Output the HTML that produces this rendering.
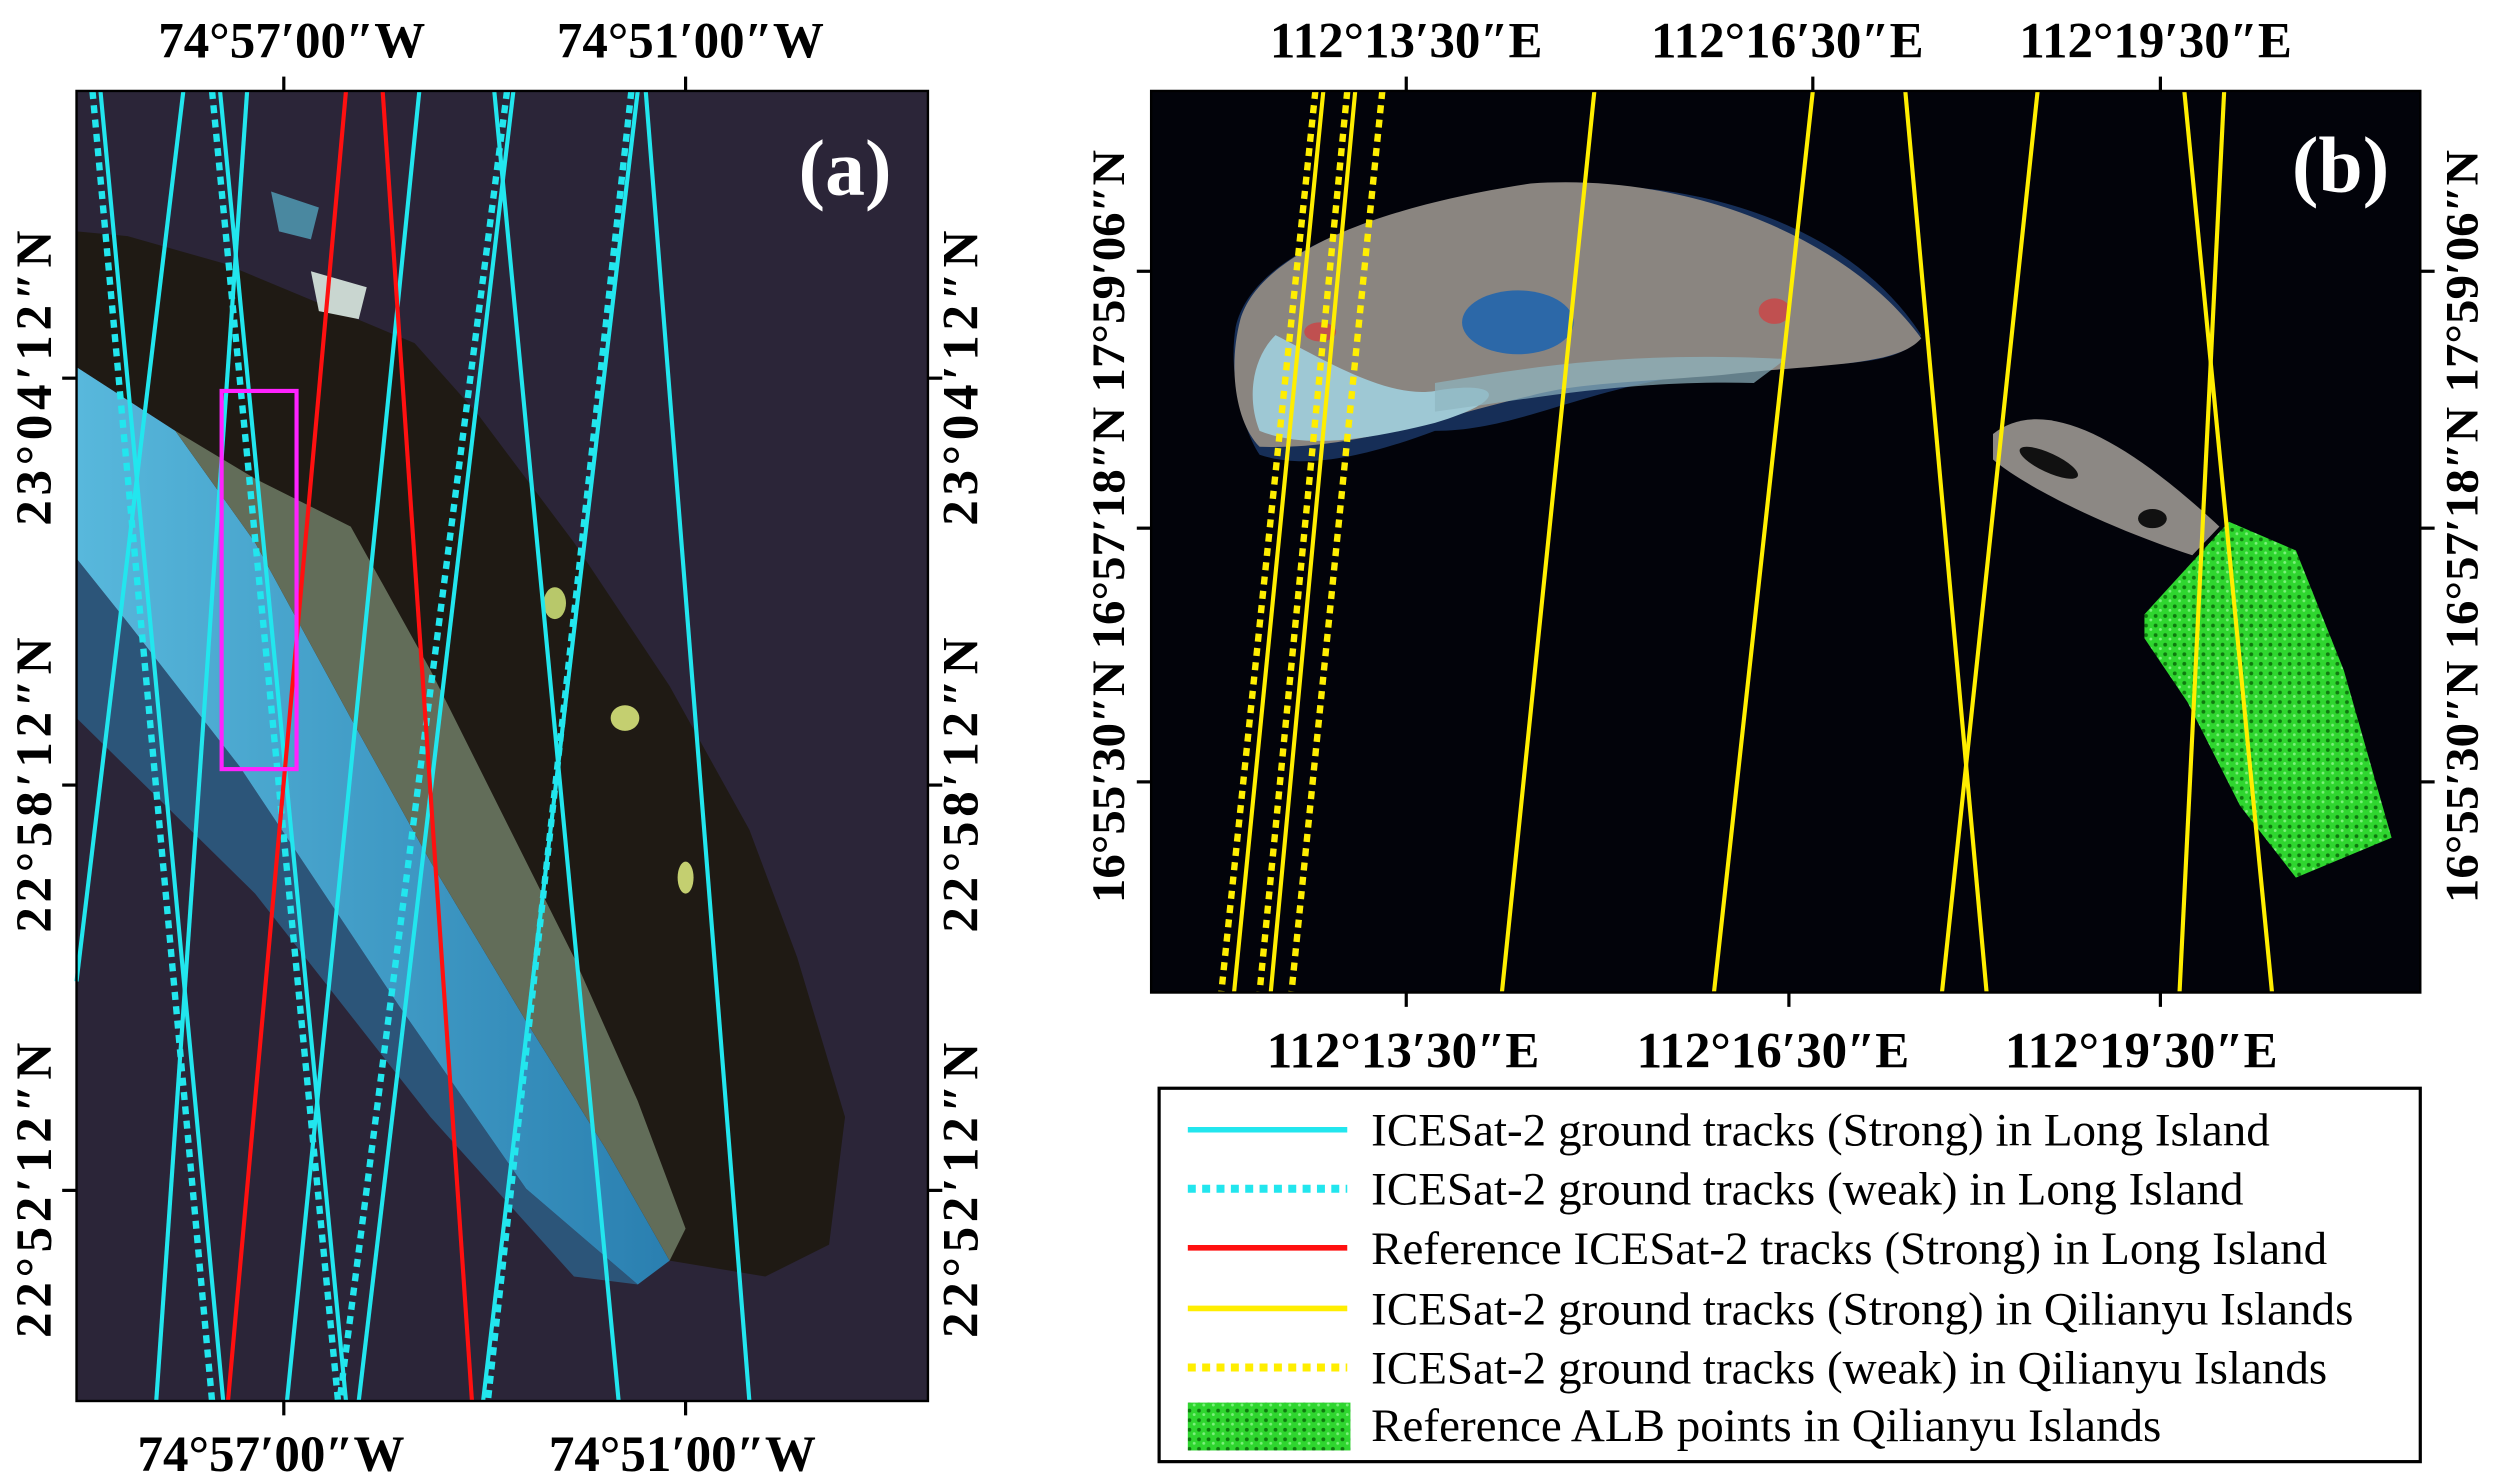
<!DOCTYPE html>
<html><head><meta charset="utf-8"><style>html,body{margin:0;padding:0;background:#fff}svg{display:block}</style></head>
<body>
<svg width="2500" height="1476" viewBox="0 0 1568 925" preserveAspectRatio="none" xmlns="http://www.w3.org/2000/svg">
<defs>
<linearGradient id="sh" x1="0" y1="0" x2="1" y2="0"><stop offset="0" stop-color="#58b8dc"/><stop offset="1" stop-color="#2a7fb0"/></linearGradient>
<pattern id="dots" width="6" height="6" patternUnits="userSpaceOnUse"><rect width="6" height="6" fill="#2fd62f"/><circle cx="2" cy="2" r="1.2" fill="#0f7a0f"/><circle cx="5" cy="4.5" r="0.9" fill="#7cf07c"/></pattern>
</defs>
<rect width="1568" height="925" fill="#fff"/>
<!-- Panel a -->
<rect x="48" y="57" width="534" height="821" fill="#2b2538"/>
<path d="M48,230 L110,270 L160,340 L220,450 L270,540 L330,640 L380,720 L420,790 L400,805 L330,745 L250,630 L150,480 L80,390 L48,350Z" fill="url(#sh)"/>
<path d="M48,350 L80,390 L150,480 L250,630 L330,745 L400,805 L360,800 L270,700 L160,560 L48,450Z" fill="#2e6a95" opacity="0.7"/>
<path d="M48,145 L80,148 L140,165 L200,190 L260,215 L300,260 L360,340 L420,430 L470,520 L500,600 L530,700 L520,780 L480,800 L420,790 L380,720 L330,640 L270,540 L220,450 L160,340 L110,270 L48,230Z" fill="#1f1a14"/>
<path d="M110,270 L160,300 L220,330 L270,420 L320,520 L360,600 L400,690 L430,770 L420,790 L380,720 L330,640 L270,540 L220,450 L160,340Z" fill="#7a8a70" opacity="0.75"/>
<path d="M195,170 L230,180 L225,200 L200,195Z" fill="#c9d6d0"/>
<path d="M170,120 L200,130 L195,150 L175,145Z" fill="#4a88a0"/>
<ellipse cx="348" cy="378" rx="7" ry="10" fill="#b8c86a"/>
<ellipse cx="392" cy="450" rx="9" ry="8" fill="#c4cf70"/>
<ellipse cx="430" cy="550" rx="5" ry="10" fill="#c4cf70"/>
<g stroke="#22e6ee" stroke-width="2.6" fill="none">
<line x1="63" y1="57" x2="140" y2="878"/>
<line x1="115" y1="57" x2="48" y2="615"/>
<line x1="138" y1="57" x2="217" y2="878"/>
<line x1="155" y1="57" x2="98" y2="878"/>
<line x1="263" y1="57" x2="180" y2="878"/>
<line x1="310" y1="57" x2="388" y2="878"/>
<line x1="322" y1="57" x2="225" y2="878"/>
<line x1="400" y1="57" x2="303" y2="878"/>
<line x1="405" y1="57" x2="470" y2="878"/>
</g>
<g stroke="#22e6ee" stroke-width="4" stroke-dasharray="5,4" fill="none">
<line x1="58" y1="57" x2="133" y2="878"/>
<line x1="133" y1="57" x2="212" y2="878"/>
<line x1="318" y1="57" x2="213" y2="878"/>
<line x1="396" y1="57" x2="306" y2="878"/>
</g>
<g stroke="#ff1010" stroke-width="2.6"><line x1="217" y1="57" x2="143" y2="878"/><line x1="240" y1="57" x2="296" y2="878"/></g>
<rect x="139" y="245" width="47" height="237" fill="none" stroke="#ff22ff" stroke-width="2.6"/>
<rect x="48" y="57" width="534" height="821" fill="none" stroke="#000" stroke-width="1.5"/>
<text x="530" y="122" font-family="Liberation Serif,serif" font-weight="bold" font-size="50" fill="#fff" text-anchor="middle">(a)</text>
<g stroke="#000" stroke-width="2"><line x1="178" y1="48" x2="178" y2="57"/><line x1="430" y1="48" x2="430" y2="57"/><line x1="178" y1="878" x2="178" y2="887"/><line x1="430" y1="878" x2="430" y2="887"/>
<line x1="39" y1="237" x2="48" y2="237"/><line x1="39" y1="492" x2="48" y2="492"/><line x1="39" y1="746" x2="48" y2="746"/>
<line x1="582" y1="237" x2="591" y2="237"/><line x1="582" y1="492" x2="591" y2="492"/><line x1="582" y1="746" x2="591" y2="746"/>
<line x1="882" y1="48" x2="882" y2="57"/><line x1="1137" y1="48" x2="1137" y2="57"/><line x1="1355" y1="48" x2="1355" y2="57"/>
<line x1="882" y1="622" x2="882" y2="631"/><line x1="1122" y1="622" x2="1122" y2="631"/><line x1="1355" y1="622" x2="1355" y2="631"/>
<line x1="713" y1="170" x2="722" y2="170"/><line x1="713" y1="331" x2="722" y2="331"/><line x1="713" y1="490" x2="722" y2="490"/>
<line x1="1518" y1="170" x2="1527" y2="170"/><line x1="1518" y1="331" x2="1527" y2="331"/><line x1="1518" y1="490" x2="1527" y2="490"/></g>
<g font-family="Liberation Serif,serif" font-weight="bold" font-size="32" fill="#000" text-anchor="middle">
<text x="183" y="36">74°57′00″W</text><text x="433" y="36">74°51′00″W</text>
<text x="170" y="922">74°57′00″W</text><text x="428" y="922">74°51′00″W</text>
<text transform="translate(32,237) rotate(-90)" textLength="185" lengthAdjust="spacing">23°04′12″N</text>
<text transform="translate(32,492) rotate(-90)" textLength="185" lengthAdjust="spacing">22°58′12″N</text>
<text transform="translate(32,746) rotate(-90)" textLength="185" lengthAdjust="spacing">22°52′12″N</text>
<text transform="translate(613,237) rotate(-90)" textLength="185" lengthAdjust="spacing">23°04′12″N</text>
<text transform="translate(613,492) rotate(-90)" textLength="185" lengthAdjust="spacing">22°58′12″N</text>
<text transform="translate(613,746) rotate(-90)" textLength="185" lengthAdjust="spacing">22°52′12″N</text>
<text x="882" y="36">112°13′30″E</text><text x="1121" y="36">112°16′30″E</text><text x="1352" y="36">112°19′30″E</text>
<text x="880" y="669">112°13′30″E</text><text x="1112" y="669">112°16′30″E</text><text x="1343" y="669">112°19′30″E</text>
</g>
<g font-family="Liberation Serif,serif" font-weight="bold" font-size="29" fill="#000" text-anchor="middle">
<text transform="translate(705,170) rotate(-90)" textLength="152" lengthAdjust="spacingAndGlyphs">17°59′06″N</text>
<text transform="translate(705,331) rotate(-90)" textLength="152" lengthAdjust="spacingAndGlyphs">16°57′18″N</text>
<text transform="translate(705,490) rotate(-90)" textLength="152" lengthAdjust="spacingAndGlyphs">16°55′30″N</text>
<text transform="translate(1554,170) rotate(-90)" textLength="152" lengthAdjust="spacingAndGlyphs">17°59′06″N</text>
<text transform="translate(1554,331) rotate(-90)" textLength="152" lengthAdjust="spacingAndGlyphs">16°57′18″N</text>
<text transform="translate(1554,490) rotate(-90)" textLength="152" lengthAdjust="spacingAndGlyphs">16°55′30″N</text>
</g>
<!-- Panel b -->
<rect x="722" y="57" width="796" height="565" fill="#02030a"/>
<path d="M790,285 C780,270 770,235 775,205 C785,160 860,130 960,118 C1060,108 1160,140 1205,210 C1190,235 1130,225 1060,235 C990,245 950,270 900,270 C860,285 820,295 790,285Z" fill="#1b3a6a" opacity="0.8"/>
<path d="M790,280 C775,265 770,230 778,200 C790,160 860,130 960,115 C1060,108 1160,150 1205,212 C1190,230 1140,228 1080,235 C1020,240 990,240 960,248 C900,262 850,282 790,280Z" fill="#8a8580"/>
<path d="M790,270 C782,250 785,225 800,210 C830,225 870,250 900,245 C940,238 950,250 900,265 C860,275 820,282 790,270Z" fill="#9ec8d4"/>
<path d="M900,240 C960,230 1020,220 1120,225 L1100,240 C1020,238 960,250 900,258Z" fill="#8fb5c0" opacity="0.7"/>
<ellipse cx="952" cy="202" rx="35" ry="20" fill="#2c68a8"/>
<path d="M1250,272 C1280,248 1330,272 1392,330 L1375,348 C1320,330 1270,305 1250,288Z" fill="#8c8884"/>
<ellipse cx="1285" cy="290" rx="20" ry="6" fill="#111" transform="rotate(25 1285 290)"/>
<ellipse cx="1350" cy="325" rx="9" ry="6" fill="#111"/>
<ellipse cx="828" cy="208" rx="10" ry="6" fill="#c05050"/>
<ellipse cx="1113" cy="195" rx="10" ry="8" fill="#c05050"/>
<path d="M1345,385 L1398,327 L1440,345 L1470,420 L1500,525 L1440,550 L1405,505 L1372,440 L1345,400Z" fill="url(#dots)"/>
<g stroke="#ffee00" stroke-width="2.6">
<line x1="830" y1="57" x2="774" y2="622"/><line x1="850" y1="57" x2="797" y2="622"/>
<line x1="1000" y1="57" x2="942" y2="622"/><line x1="1137" y1="57" x2="1075" y2="622"/>
<line x1="1195" y1="57" x2="1246" y2="622"/><line x1="1278" y1="57" x2="1218" y2="622"/>
<line x1="1370" y1="57" x2="1425" y2="622"/><line x1="1395" y1="57" x2="1367" y2="622"/>
</g>
<g stroke="#ffee00" stroke-width="4" stroke-dasharray="5,4">
<line x1="825" y1="57" x2="766" y2="622"/><line x1="845" y1="57" x2="790" y2="622"/><line x1="867" y1="57" x2="810" y2="622"/>
</g>
<rect x="722" y="57" width="796" height="565" fill="none" stroke="#000" stroke-width="1.5"/>
<text x="1468" y="120" font-family="Liberation Serif,serif" font-weight="bold" font-size="50" fill="#fff" text-anchor="middle">(b)</text>
<!-- legend -->
<rect x="727" y="682" width="791" height="234" fill="#fff" stroke="#000" stroke-width="2"/>
<g stroke-width="3.5">
<line x1="745" y1="708" x2="845" y2="708" stroke="#22e6ee"/>
<line x1="745" y1="745" x2="845" y2="745" stroke="#22e6ee" stroke-width="5" stroke-dasharray="5,4"/>
<line x1="745" y1="782" x2="845" y2="782" stroke="#ff1010"/>
<line x1="745" y1="820" x2="845" y2="820" stroke="#ffee00"/>
<line x1="745" y1="857" x2="845" y2="857" stroke="#ffee00" stroke-width="5" stroke-dasharray="5,4"/>
</g>
<rect x="745" y="879" width="102" height="30" fill="url(#dots)"/>
<g font-family="Liberation Serif,serif" font-size="29.5" fill="#000">
<text x="860" y="718">ICESat-2 ground tracks (Strong) in Long Island</text>
<text x="860" y="755">ICESat-2 ground tracks (weak) in Long Island</text>
<text x="860" y="792">Reference ICESat-2 tracks (Strong) in Long Island</text>
<text x="860" y="830">ICESat-2 ground tracks (Strong) in Qilianyu Islands</text>
<text x="860" y="867">ICESat-2 ground tracks (weak) in Qilianyu Islands</text>
<text x="860" y="903">Reference ALB points in Qilianyu Islands</text>
</g>
</svg>
</body></html>
